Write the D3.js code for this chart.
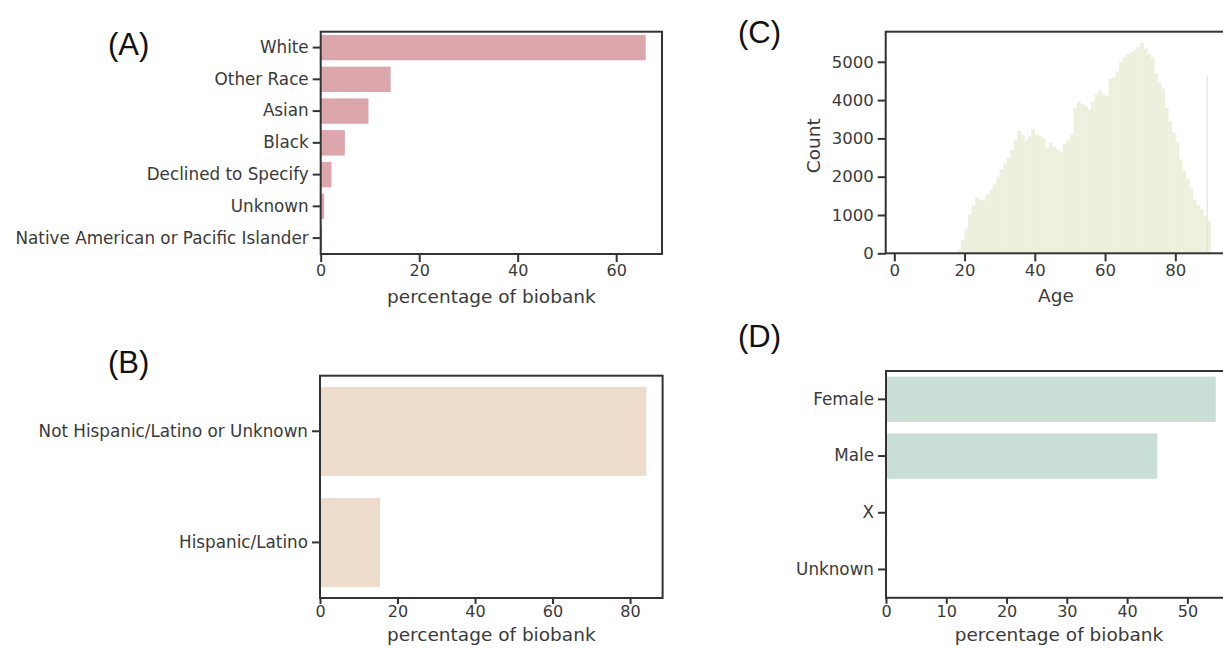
<!DOCTYPE html>
<html>
<head>
<meta charset="utf-8">
<script src="https://cdn.jsdelivr.net/npm/d3@7"></script>
<style>
  body { margin: 0; background: #fff; }
  svg { display: block; }
  .tick text { font-family: "DejaVu Sans", sans-serif; fill: #3a3a3a; }
  .tick line { stroke: #333; stroke-width: 2; }
  .domain { display: none; }
  .frame { fill: none; stroke: #333; stroke-width: 2; }
  .aText { font-family: "DejaVu Sans", sans-serif; fill: #3a3a3a; text-anchor: middle; }
  .panelTag { font-family: "Liberation Sans", Arial, sans-serif; font-size: 31px; fill: #111; }
</style>
</head>
<body>
<div class="plot"></div>
<script>
// race / ethnicity / age / sex make-up of the biobank

// data
var raceCats = ["White", "Other Race", "Asian", "Black", "Declined to Specify", "Unknown", "Native American or Pacific Islander"];
var raceVals = [66.0, 14.2, 9.7, 4.9, 2.2, 0.7, 0.3];

var ethCats = ["Not Hispanic/Latino or Unknown", "Hispanic/Latino"];
var ethVals = [84.2, 15.5];

var sexCats = ["Female", "Male", "X", "Unknown"];
var sexVals = [54.7, 45.0, 0.2, 0.1];

// age histogram, 1 year bins (left edge) and counts
var ageBins = [18, 19, 20, 21, 22, 23, 24, 25, 26, 27, 28, 29, 30, 31, 32, 33, 34, 35, 36, 37,
               38, 39, 40, 41, 42, 43, 44, 45, 46, 47, 48, 49, 50, 51, 52, 53, 54, 55, 56, 57,
               58, 59, 60, 61, 62, 63, 64, 65, 66, 67, 68, 69, 70, 71, 72, 73, 74, 75, 76, 77,
               78, 79, 80, 81, 82, 83, 84, 85, 86, 87, 88, 89];
var ageCounts = [100, 350, 650, 1000, 1250, 1450, 1400, 1380, 1550, 1650, 1800, 2000, 2200, 2350, 2500, 2700, 2950, 3200, 3100, 2950,
                 3050, 3250, 3100, 3050, 3000, 2750, 2880, 2780, 2700, 2650, 2850, 2950, 3100, 3800, 3950, 3900, 3850, 3750, 3950, 4150,
                 4250, 4150, 4100, 4550, 4600, 4750, 5000, 5130, 5200, 5250, 5300, 5380, 5500, 5350, 5200, 5100, 4700, 4450, 4300, 3800,
                 3450, 3150, 2900, 2450, 2150, 1950, 1700, 1400, 1250, 1150, 980, 850];
// aggregated 89+ spike
var spikeAge = [88.9];
var spikeCount = [4650];

var ageTicks = [0, 20, 40, 60, 80];
var countTicks = [0, 1000, 2000, 3000, 4000, 5000];

// Step 1: svg
var svgWidth = 1223;
var svgHeight = 650;

var svg = d3.select(".plot")
  .append("svg")
  .attr("width", svgWidth)
  .attr("height", svgHeight);

// Step 2: horizontal bar panel
function barPanel(box, cats, vals, xmax, ticks, color) {
  var g = svg.append("g").attr("transform", `translate(${box.left}, ${box.top})`);

  var x = d3.scaleLinear().domain([0, xmax]).range([0, box.width]);
  var y = d3.scaleBand().domain(cats).range([0, box.height]).paddingInner(0.2).paddingOuter(0.1);

  g.selectAll("rect.bar")
    .data(cats)
    .enter()
    .append("rect")
    .attr("class", "bar")
    .attr("x", 0)
    .attr("y", d => y(d))
    .attr("width", (d, i) => x(vals[i]))
    .attr("height", y.bandwidth())
    .attr("fill", color);

  var left = g.append("g").call(d3.axisLeft(y).tickSize(8).tickPadding(4).tickSizeOuter(0));
  left.selectAll("text").style("font-size", "16.8px");

  var bottom = g.append("g")
    .attr("transform", `translate(0, ${box.height})`)
    .call(d3.axisBottom(x).tickValues(ticks).tickFormat(d3.format("d")).tickSize(box.tick).tickPadding(box.pad).tickSizeOuter(0));
  bottom.selectAll("text").style("font-size", "16px");

  g.append("rect").attr("class", "frame")
    .attr("width", box.width).attr("height", box.height);

  g.append("text")
    .attr("class", "aText")
    .attr("x", x(xmax) / 2)
    .attr("y", box.height + box.label)
    .style("font-size", "18.5px")
    .text("percentage of biobank");
  return g;
}

// (A) race
barPanel({left: 320.7, top: 31.7, width: 341.3, height: 222.3, tick: 8, pad: 3, label: 49}, raceCats, raceVals, 69.3,
  [0, 20, 40, 60], "#dba7ac");

// (B) ethnicity
barPanel({left: 320, top: 375.7, width: 342.6, height: 222.3, tick: 6, pad: 2, label: 43}, ethCats, ethVals, 88.4,
  [0, 20, 40, 60, 80], "#eddccb");

// (D) sex
barPanel({left: 886, top: 371, width: 346, height: 226.8, tick: 6, pad: 2, label: 43}, sexCats, sexVals, 57.4,
  [0, 10, 20, 30, 40, 50], "#c9dfd5");

// Step 3: (C) age histogram
var cBox = {left: 885.7, top: 31.7, width: 343.9, height: 221.6};
var cg = svg.append("g").attr("transform", `translate(${cBox.left}, ${cBox.top})`);

var xAge = d3.scaleLinear().domain([-2.45, 95.45]).range([0, cBox.width]);
var yCount = d3.scaleLinear().domain([0, 5786]).range([cBox.height, 0]);

cg.selectAll("rect.bin")
  .data(ageBins)
  .enter()
  .append("rect")
  .attr("class", "bin")
  .attr("x", d => xAge(d))
  .attr("y", (d, i) => yCount(ageCounts[i]))
  .attr("width", d => xAge(d + 1) - xAge(d) + 0.3)
  .attr("height", (d, i) => cBox.height - yCount(ageCounts[i]))
  .attr("fill", "#edf0dc");

cg.selectAll("rect.spike")
  .data(spikeAge)
  .enter()
  .append("rect")
  .attr("class", "spike")
  .attr("x", d => xAge(d))
  .attr("y", (d, i) => yCount(spikeCount[i]))
  .attr("width", 1.2)
  .attr("height", (d, i) => cBox.height - yCount(spikeCount[i]))
  .attr("fill", "#e3e6cc");

var cLeft = cg.append("g").call(d3.axisLeft(yCount).tickValues(countTicks).tickFormat(d3.format("d")).tickSize(8).tickPadding(4).tickSizeOuter(0));
cLeft.selectAll("text").style("font-size", "16.5px");
var cBottom = cg.append("g")
  .attr("transform", `translate(0, ${cBox.height})`)
  .call(d3.axisBottom(xAge).tickValues(ageTicks).tickSize(8).tickPadding(3).tickSizeOuter(0));
cBottom.selectAll("text").style("font-size", "16.5px");

cg.append("rect").attr("class", "frame").attr("width", cBox.width).attr("height", cBox.height);

cg.append("text")
  .attr("class", "aText")
  .attr("x", xAge(46))
  .attr("y", cBox.height + 49)
  .style("font-size", "18.5px")
  .text("Age");

cg.append("text")
  .attr("class", "aText")
  .attr("transform", "rotate(-90)")
  .attr("x", -114)
  .attr("y", -66)
  .style("font-size", "18.5px")
  .text("Count");

// Step 4: panel letters
var tags = [["(A)", 108, 55], ["(B)", 108, 373], ["(C)", 738, 43], ["(D)", 738, 347]];
svg.selectAll("text.panelTag")
  .data(tags)
  .enter()
  .append("text")
  .attr("class", "panelTag")
  .attr("x", d => d[1])
  .attr("y", d => d[2])
  .text(d => d[0]);
</script>
</body>
</html>
